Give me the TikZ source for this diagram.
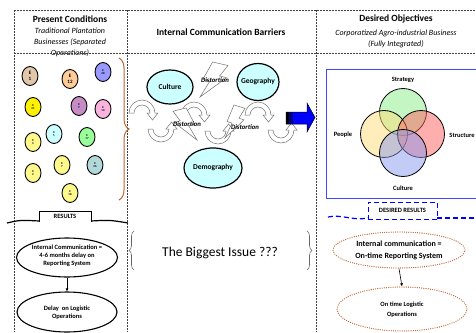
\documentclass[tikz,border=0pt]{standalone}
\usepackage{fontspec}
\setmainfont{Carlito}
\usetikzlibrary{shapes.geometric,arrows.meta,decorations.pathreplacing}

\definecolor{braceBrown}{HTML}{C0622D}
\definecolor{cellCyan}{HTML}{CCFFFF}
\definecolor{boxBlue}{HTML}{3F48FF}
\definecolor{vennGreen}{HTML}{88EE88}
\definecolor{vennYellow}{HTML}{FFDD77}
\definecolor{vennRed}{HTML}{FF5E5E}
\definecolor{vennBlue}{HTML}{8899EE}

\tikzset{
  rule/.style={dash pattern=on 2pt off 1pt, line width=0.5pt, black!75},
  emp/.style={ellipse, draw, line width=0.9pt, fill=#1, minimum width=16pt,
    minimum height=19pt, inner sep=0pt, align=center,
    font=\fontsize{3}{3.5}\selectfont\bfseries},
  barrier/.style={ellipse, draw, line width=1.2pt, fill=cellCyan, inner sep=0pt},
  bartext/.style={font=\fontsize{7.5}{9}\selectfont\bfseries},
  distort/.style={font=\fontsize{6.8}{8}\selectfont\bfseries\itshape},
  curl/.style={draw=black!55, fill=white, line width=0.5pt},
  result/.style={ellipse, draw, line width=1.1pt, inner sep=0pt},
  restext/.style={align=center, font=\fontsize{6.5}{8}\selectfont\bfseries},
  goal/.style={ellipse, draw=braceBrown, line width=1.3pt,
    dash pattern=on 0pt off 2.2pt, line cap=round, inner sep=0pt},
  venn/.style={circle, draw, line width=0.8pt, fill=#1, fill opacity=0.5,
    minimum size=47pt, inner sep=0pt},
  vennlabel/.style={font=\fontsize{6.5}{8}\selectfont\bfseries},
  headline/.style={font=\fontsize{9.5}{11}\selectfont\bfseries},
  subline/.style={align=center, font=\fontsize{8}{11}\selectfont\itshape}
}

% curved arrow arching up, centre x y
\newcommand{\uparc}[2]{%
  \draw[curl] (#1-13,#2) arc[start angle=180,end angle=0,radius=13pt]
    -- ++(3,0) -- (#1+10.5,#2+7) -- (#1+5,#2) -- (#1+8,#2)
    arc[start angle=0,end angle=180,radius=8pt] -- cycle;}
% curved arrow dipping down, centre x y
\newcommand{\downarc}[2]{%
  \draw[curl] (#1-13,#2) arc[start angle=180,end angle=360,radius=13pt]
    -- ++(3,0) -- (#1+10.5,#2-7) -- (#1+5,#2) -- (#1+8,#2)
    arc[start angle=360,end angle=180,radius=8pt] -- cycle;}
% lightning bolt: x y width height
\newcommand{\bolt}[4]{%
  \draw[curl, shift={(#1,#2)}, xscale=#3, yscale=#4] (0.45,0) -- (1,0.1)
    -- (0.7,0.4) -- (0.95,0.45) -- (0,1) -- (0.35,0.55) -- (0.1,0.5) -- cycle;}

\begin{document}
\begin{tikzpicture}[x=1pt,y=-1pt]
\useasboundingbox (0,0) rectangle (476,332);

% Table frame
\draw[rule] (14,10) -- (476,10);
\draw[rule] (14,10) -- (14,332);
\draw[rule] (127,10) -- (127,332);
\draw[rule] (316,10) -- (316,332);

% Column headers
\node[headline] (presenthd) at (70,19) {Present Conditions};
\node[subline] (presentsub) at (70,42) {Traditional Plantation\\Businesses (Separated\\Operations)};
\node[headline] (barrierhd) at (221,32) {Internal Communication Barriers};
\node[headline] (desiredhd) at (396,19) {Desired Objectives};
\node[subline] (desiredsub) at (396,38.5) {Corporatized Agro-industrial Business\\(Fully Integrated)};
\draw[rule] (14,53) -- (476,53);

% Separated estates
\node[emp=brown!45!white, font=\fontsize{5}{6}\selectfont\bfseries] (e1) at (30,76) {E\\1};
\node[emp=orange!40!white, font=\fontsize{5}{6}\selectfont\bfseries] (e12) at (70,79) {E\\12};
\node[emp=blue!40!white] (e28) at (103,72) {E\\28};
\node[emp=yellow] (e21) at (33,107) {E\\21};
\node[emp=violet!45!white] (e9) at (79,106) {E\\9};
\node[emp=magenta!30!white] (e10) at (103,109) {E\\10};
\node[emp=yellow!45!white] (e4) at (33,142) {E\\4};
\node[emp=cellCyan] (e5) at (54,134) {E\\5};
\node[emp=green!40!white] (e17) at (87,137) {E\\17};
\node[emp=yellow!45!white] (e2) at (33,173) {E\\2};
\node[emp=yellow!45!white] (e7) at (62,165) {E\\7};
\node[emp=teal!30!white] (e26) at (95,165) {E\\26};
\node[emp=yellow!45!white] (e18) at (70,193) {E\\18};

\draw[braceBrown, line width=1pt, decorate, decoration={brace, amplitude=10pt}]
  (119,58) -- (119,200);

% Results ribbon
\draw[line width=1.2pt] (7,223) .. controls (20,220) .. (39,221);
\draw[line width=1.2pt] (91,221) .. controls (110,220) .. (128,223);
\draw[line width=0.8pt, fill=white] (39,222) -- (39,211) -- (91,211) -- (91,222);
\node[font=\fontsize{6.5}{8}\selectfont\bfseries] (resultslbl) at (65,216.5) {RESULTS};

\node[result, minimum width=101pt, minimum height=39pt] (comm) at (67,257.5) {};
\node[restext] (commtext) at (67,255.5) {Internal Communication =\\4-6 months delay on\\Reporting System};
\node[result, minimum width=100pt, minimum height=40pt] (delay) at (67,312) {};
\node[restext] (delaytext) at (67,313) {Delay\ \ on Logistic\\Operations};
\draw[-{Latex[length=3pt,width=3pt]}, line width=0.6pt] (comm.south) -- (delay.north);

% Barriers: waves and bolts
\uparc{142}{113}
\downarc{161}{129}
\uparc{194}{115}
\downarc{218}{131}
\uparc{258}{115}
\downarc{281}{130}
\bolt{200}{62}{28}{35}
\bolt{197}{108}{-24}{32}
\bolt{225}{105}{20}{33}

\node[barrier, minimum width=46pt, minimum height=34pt] (culture) at (170,87) {};
\node[bartext] (culturetxt) at (culture) {Culture};
\node[barrier, minimum width=42pt, minimum height=37pt] (geography) at (258,82) {};
\node[bartext] (geographytxt) at (geography) {Geography};
\node[barrier, minimum width=58pt, minimum height=40pt] (demography) at (213,168) {};
\node[bartext] (demographytxt) at (demography) {Demography};

\node[distort] (dist1) at (215,80) {Distortion};
\node[distort] (dist2) at (187,124) {Distortion};
\node[distort] (dist3) at (245,127) {Distortion};

% Block arrow to objectives
\draw[fill=blue, line width=0.5pt] (286,112) -- (307,112) -- (307,103) -- (315,117.5)
  -- (307,132) -- (307,124) -- (286,124) -- cycle;
\fill[black] (286.3,112.3) rectangle (288.5,123.7);
\fill[blue!50!black] (289.3,112.3) rectangle (293,123.7);

% Biggest issue
\draw[black!60, line width=0.6pt, decorate, decoration={brace, amplitude=5pt}] (134,270) -- (134,231);
\draw[black!60, line width=0.6pt, decorate, decoration={brace, amplitude=5pt}] (307,231) -- (307,270);
\node[font=\fontsize{13.5}{16}\selectfont] (issue) at (220,253) {The Biggest Issue ???};

% Desired objectives
\draw[boxBlue, line width=0.8pt] (326,69) rectangle (480,198);
\node[venn=vennGreen] (strategy) at (403,112) {};
\node[venn=vennYellow] (people) at (384,134) {};
\node[venn=vennRed] (structure) at (421,134) {};
\node[venn=vennBlue] (culturev) at (403,153) {};
\node[vennlabel] (strategylbl) at (403,80) {Strategy};
\node[vennlabel] (peoplelbl) at (343,135) {People};
\node[vennlabel] (structurelbl) at (462,135) {Structure};
\node[vennlabel] (culturelbl) at (403,188) {Culture};

% Desired results banner
\draw[blue, line width=1.2pt, dash pattern=on 5pt off 3pt] (328,217) .. controls (342,214) and (352,221) .. (368,218);
\draw[blue, line width=1.2pt, dash pattern=on 5pt off 3pt] (437,218) -- (476,218);
\node[draw=blue, line width=1pt, dash pattern=on 5pt off 3pt, fill=white,
  minimum width=69pt, minimum height=17pt, inner sep=0pt,
  font=\fontsize{6.5}{8}\selectfont\bfseries] (desired) at (402.5,210.5) {DESIRED RESULTS};

\node[goal, minimum width=132pt, minimum height=36pt] (ontime) at (399,250) {};
\node[align=center, font=\fontsize{8}{11.5}\selectfont\bfseries] (ontimetxt) at (399,250.5) {Internal communication =\\On-time Reporting System};
\node[goal, minimum width=130pt, minimum height=44pt] (logistic) at (402,309) {};
\node[restext, font=\fontsize{6.5}{10}\selectfont\bfseries] (logistictxt) at (402,310) {On time Logistic\\Operations};
\draw[-{Latex[length=3pt,width=3pt]}, line width=0.6pt] (ontime.south) -- (logistic.north);

\end{tikzpicture}
\end{document}
